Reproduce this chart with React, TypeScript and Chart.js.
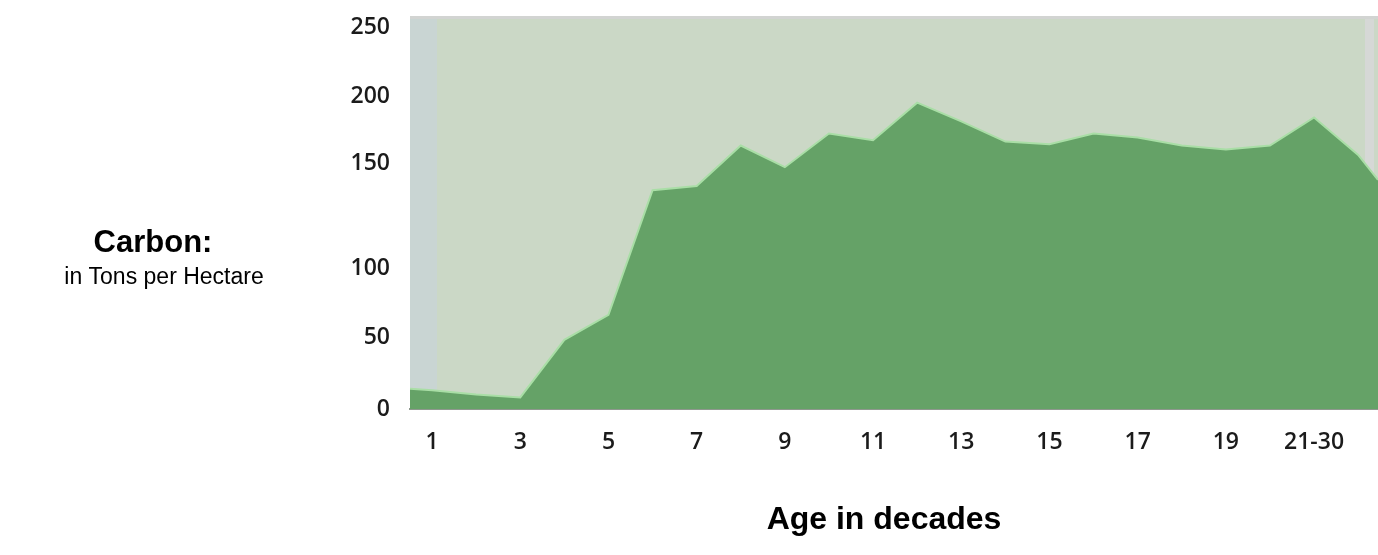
import React, { useEffect, useRef } from 'react';
import { Chart, registerables, LinearScale } from 'chart.js';

// ---- data ----
// decade position along the x axis (0.5 and 22.45 are the plot's left / right edges)
const decadePositions = [0.5, 1, 2, 3, 4, 5, 6, 7, 8, 9, 10, 11, 12, 13, 14, 15, 16, 17, 18, 19, 20, 21, 22, 22.45];
const carbonTons = [14, 13, 10, 8, 48, 66, 137, 139, 163, 148, 172, 167, 195, 181, 166, 164, 172, 169, 163, 160, 163, 184, 156, 142];

const xTickValues = [1, 3, 5, 7, 9, 11, 13, 15, 17, 19, 21];
const xTickLabels = ['1', '3', '5', '7', '9', '11', '13', '15', '17', '19', '21-30'];
const yTickValues = [0, 50, 100, 150, 200, 250];
const yTickLabels = ['0', '50', '100', '150', '200', '250'];

// the reference's value axis is not evenly spaced: where each labelled value sits (fraction of plot height)
const yBreakValues = [0, 50, 100, 150, 200, 250];
const yBreakFractions = [0, 0.1837, 0.3597, 0.6276, 0.7985, 0.9745];

function valueToDecimal(v: number): number {
  const n = yBreakValues.length;
  let i = 0;
  if (v >= yBreakValues[n - 1]) i = n - 2;
  else {
    while (i < n - 2 && v > yBreakValues[i + 1]) i++;
  }
  const v0 = yBreakValues[i], v1 = yBreakValues[i + 1];
  const f0 = yBreakFractions[i], f1 = yBreakFractions[i + 1];
  return f0 + ((v - v0) / (v1 - v0)) * (f1 - f0);
}
function decimalToValue(d: number): number {
  const n = yBreakFractions.length;
  let i = 0;
  if (d >= yBreakFractions[n - 1]) i = n - 2;
  else {
    while (i < n - 2 && d > yBreakFractions[i + 1]) i++;
  }
  const v0 = yBreakValues[i], v1 = yBreakValues[i + 1];
  const f0 = yBreakFractions[i], f1 = yBreakFractions[i + 1];
  return v0 + ((d - f0) / (f1 - f0)) * (v1 - v0);
}

class PiecewiseScale extends (LinearScale as any) {
  static id = 'piecewise';
  static defaults = (LinearScale as any).defaults;
  getPixelForValue(value: number) {
    return (this as any).getPixelForDecimal(valueToDecimal(value));
  }
  getValueForPixel(pixel: number) {
    return decimalToValue((this as any).getDecimalForPixel(pixel));
  }
}

Chart.register(...registerables, PiecewiseScale as any);

const decorPlugin = {
  id: 'decor',
  beforeDraw(chart: any) {
    const { ctx, chartArea: a } = chart;
    ctx.save();
    ctx.fillStyle = '#cbd8c6';
    ctx.fillRect(a.left, a.top, a.right - a.left, a.bottom - a.top);
    ctx.fillStyle = '#c9d5d3';
    ctx.fillRect(a.left, a.top, 27, a.bottom - a.top);
    ctx.fillStyle = '#d6d8d6';
    ctx.fillRect(a.right - 13, a.top, 9, a.bottom - a.top);
    ctx.fillStyle = '#d2d4d2';
    ctx.fillRect(a.left, a.top - 1, a.right - a.left, 3);
    ctx.restore();
  },
  afterDraw(chart: any) {
    const { ctx } = chart;
    ctx.save();
    ctx.fillStyle = '#000';
    ctx.textAlign = 'center';
    ctx.textBaseline = 'alphabetic';
    ctx.font = 'bold 31px "Liberation Sans", Arial, sans-serif';
    ctx.fillText('Carbon:', 153, 252);
    ctx.font = '23px "Liberation Sans", Arial, sans-serif';
    ctx.fillText('in Tons per Hectare', 164, 284);
    ctx.font = 'bold 32px "Liberation Sans", Arial, sans-serif';
    ctx.fillText('Age in decades', 884, 529);
    ctx.restore();
  },
};

export default function App() {
  const ref = useRef<HTMLCanvasElement | null>(null);
  useEffect(() => {
    document.body.style.margin = '0';
    const canvas = ref.current;
    if (!canvas) return;
    const tickFont = { family: '"Open Sans", sans-serif', size: 23, weight: 600 as any };
    const chart = new Chart(canvas, {
      type: 'line',
      data: {
        datasets: [
          {
            data: decadePositions.map((x, i) => ({ x, y: carbonTons[i] })),
            fill: 'origin',
            backgroundColor: '#65a267',
            borderColor: '#a9dea6',
            borderWidth: 2,
            pointRadius: 0,
            tension: 0,
          },
        ],
      },
      plugins: [decorPlugin],
      options: {
        responsive: false,
        animation: false,
        layout: { padding: { top: 17, right: 0, bottom: 0, left: 0 } },
        plugins: { legend: { display: false }, tooltip: { enabled: false } },
        scales: {
          x: {
            type: 'linear',
            min: 0.5,
            max: 22.45,
            z: 1,
            grid: { display: false, drawTicks: false },
            border: { display: true, color: '#8e988e', width: 2 },
            afterBuildTicks: (s: any) => {
              s.ticks = xTickValues.map((v) => ({ value: v }));
            },
            afterFit: (s: any) => {
              s.height = 146;
              s.paddingLeft = 0;
              s.paddingRight = 0;
            },
            ticks: {
              autoSkip: false,
              maxRotation: 0,
              padding: 20,
              color: '#1b1b1b',
              font: tickFont,
              callback: (_v: any, i: number) => xTickLabels[i],
            },
          },
          y: {
            type: 'piecewise' as any,
            min: 0,
            max: decimalToValue(1),
            grid: { display: false, drawTicks: false },
            border: { display: false },
            afterBuildTicks: (s: any) => {
              s.ticks = yTickValues.map((v) => ({ value: v }));
            },
            afterFit: (s: any) => {
              s.width = 410;
              s.paddingTop = 0;
              s.paddingBottom = 0;
            },
            ticks: {
              padding: 20,
              color: '#1b1b1b',
              font: tickFont,
              callback: (_v: any, i: number) => yTickLabels[i],
            },
          } as any,
        },
      } as any,
    });
    return () => chart.destroy();
  }, []);
  return (
    <div style={{ width: 1378, height: 555 }}>
      <canvas ref={ref} width={1378} height={555} style={{ display: 'block' }} />
    </div>
  );
}
